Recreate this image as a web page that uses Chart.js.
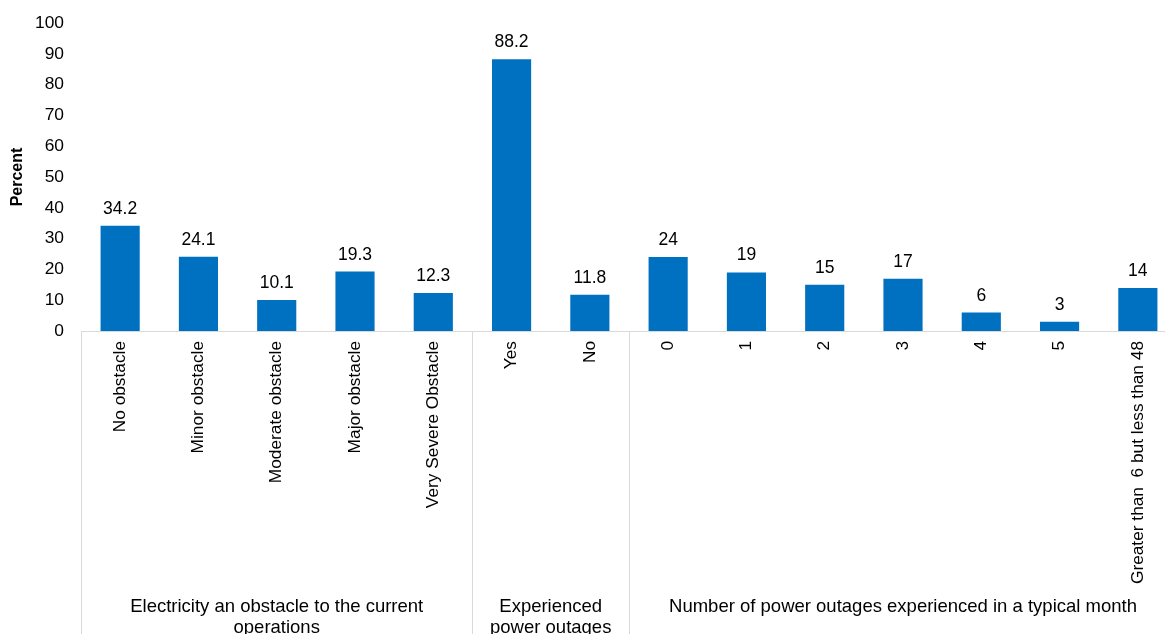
<!DOCTYPE html>
<html>
<head>
<meta charset="utf-8">
<script src="https://cdn.jsdelivr.net/npm/chart.js@4/dist/chart.umd.min.js"></script>
<style>
  html, body { margin: 0; padding: 0; background: #fff; overflow: hidden; }
  #wrap { width: 1165px; height: 634px; overflow: hidden; }
</style>
</head>
<body>
<div id="wrap"><canvas id="outages" width="1178" height="634"></canvas></div>
<script>
const categories = [
    "No obstacle", "Minor obstacle", "Moderate obstacle", "Major obstacle", "Very Severe Obstacle",
    "Yes", "No",
    "0", "1", "2", "3", "4", "5", "Greater than  6 but less than 48"
];
const percents = [34.2, 24.1, 10.1, 19.3, 12.3, 88.2, 11.8, 24, 19, 15, 17, 6, 3, 14];
const valueLabels = ["34.2", "24.1", "10.1", "19.3", "12.3", "88.2", "11.8", "24", "19", "15", "17", "6", "3", "14"];

// groups of categories along the bottom: caption lines, first and last index
const groupNames = [
    ["Electricity an obstacle to the current", "operations"],
    ["Experienced", "power outages"],
    ["Number of power outages experienced in a typical month"]
];
const groupStart = [0, 5, 7];
const groupEnd = [4, 6, 13];

const yTicks = [0, 10, 20, 30, 40, 50, 60, 70, 80, 90, 100];

const FONT = "'Liberation Sans', Arial, sans-serif";
const lineColor = "#D9D9D9";

const annotate = {
    id: "annotate",
    afterDatasetsDraw(chart) {
        const ctx = chart.ctx;
        const meta = chart.getDatasetMeta(0);
        ctx.save();
        ctx.fillStyle = "#000";
        ctx.font = "17.5px " + FONT;
        ctx.textAlign = "center";
        ctx.textBaseline = "alphabetic";
        meta.data.forEach((bar, i) => {
            ctx.fillText(valueLabels[i], bar.x, bar.y - 12);
        });
        ctx.restore();
    },
    afterDraw(chart) {
        const ctx = chart.ctx;
        const x = chart.scales.x;
        const top = chart.chartArea.bottom;
        const bottom = chart.height;
        const half = (x.getPixelForValue(1) - x.getPixelForValue(0)) / 2;
        ctx.save();
        ctx.strokeStyle = lineColor;
        ctx.lineWidth = 1;
        const edges = [x.getPixelForValue(0) - half];
        groupEnd.forEach(e => edges.push(x.getPixelForValue(e) + half));
        edges.forEach(px => {
            const p = Math.round(px) + 0.5;
            ctx.beginPath();
            ctx.moveTo(p, top);
            ctx.lineTo(p, bottom);
            ctx.stroke();
        });
        ctx.fillStyle = "#000";
        ctx.font = "18.5px " + FONT;
        ctx.textAlign = "center";
        ctx.textBaseline = "middle";
        groupNames.forEach((lines, g) => {
            const cx = (x.getPixelForValue(groupStart[g]) + x.getPixelForValue(groupEnd[g])) / 2;
            lines.forEach((t, k) => ctx.fillText(t, cx, 607 + k * 21));
        });
        ctx.restore();
    }
};

new Chart(document.getElementById("outages"), {
    type: "bar",
    data: {
        labels: categories,
        datasets: [{
            data: percents,
            backgroundColor: "#0070C0",
            borderWidth: 0,
            categoryPercentage: 1,
            barPercentage: 0.5
        }]
    },
    options: {
        responsive: false,
        animation: false,
        layout: { padding: { top: 23, right: 1, left: 0, bottom: 0 } },
        plugins: {
            legend: { display: false },
            tooltip: { enabled: false }
        },
        scales: {
            x: {
                grid: { display: false, drawTicks: false },
                border: { display: true, color: lineColor, width: 1 },
                ticks: {
                    autoSkip: false,
                    minRotation: 90,
                    maxRotation: 90,
                    padding: 10,
                    color: "#000",
                    font: { family: FONT, size: 17.3 }
                },
                afterFit(scale) { scale.height = 303; }
            },
            y: {
                min: 0,
                max: 100,
                afterBuildTicks(scale) { scale.ticks = yTicks.map(v => ({ value: v })); },
                grid: { display: false, drawTicks: false },
                border: { display: false },
                ticks: {
                    padding: 17,
                    color: "#000",
                    font: { family: FONT, size: 17.4 }
                },
                title: {
                    display: true,
                    text: "Percent",
                    color: "#000",
                    font: { family: FONT, size: 16, weight: "bold" },
                    padding: { top: 8, bottom: 0 }
                },
                afterFit(scale) {
                    scale.width = 81;
                    // tick padding would otherwise push the plot top down
                    scale.paddingTop = 0;
                }
            }
        }
    },
    plugins: [annotate]
});
</script>
</body>
</html>
